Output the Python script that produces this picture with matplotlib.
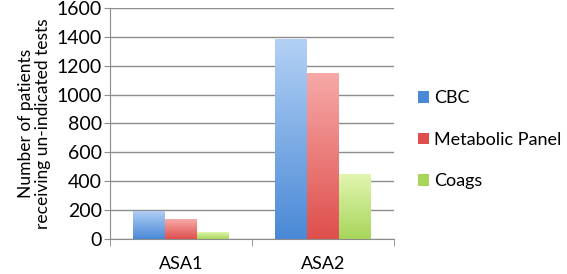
import numpy as np
import matplotlib
matplotlib.use('Agg')
import matplotlib.pyplot as plt
from matplotlib.colors import LinearSegmentedColormap
from matplotlib.patches import Patch

# data
groups      = ['ASA1', 'ASA2']
series      = ['CBC', 'Metabolic Panel', 'Coags']
cbc         = [195, 1385]
metabolic   = [135, 1150]
coags       = [45, 450]

# top / bottom colours of each bar gradient
grad_colours = [('#b3d1f5', '#4a89d6'),
                ('#f7aaa8', '#de4f4c'),
                ('#e2f5b0', '#a7d65a')]

plt.rcParams['font.family'] = ['Lato', 'DejaVu Sans']

fig = plt.figure(figsize=(5.67, 2.74), dpi=100)
ax  = fig.add_axes([0.194, 0.128, 0.501, 0.843])

x     = np.arange(len(groups))
width = 0.225
grad  = np.linspace(0, 1, 256).reshape(-1, 1)

for i, (vals, (top, bot)) in enumerate(zip([cbc, metabolic, coags], grad_colours)):
    bars = ax.bar(x + (i - 1) * width, vals, width, color=bot, linewidth=0, zorder=2)
    cmap = LinearSegmentedColormap.from_list('g%d' % i, [bot, top])
    for b in bars:
        x0, y0 = b.get_x(), b.get_y()
        im = ax.imshow(grad, cmap=cmap, origin='lower', aspect='auto',
                       extent=[x0, x0 + b.get_width(), y0, y0 + b.get_height()],
                       zorder=3)
        im.set_clip_path(b)

ax.set_xlim(-0.5, 1.5)
ax.set_ylim(0, 1600)
ax.set_yticks(np.arange(0, 1601, 200))
ax.yaxis.grid(True, color='#8c8c8c', linewidth=1.0, zorder=0)
ax.set_axisbelow(True)

ax.set_xticks(x)
ax.set_xticklabels(groups, fontsize=13)
ax.set_xticks([-0.5, 0.5, 1.5], minor=True)
ax.tick_params(axis='x', which='major', length=0, pad=12)
ax.tick_params(axis='x', which='minor', length=5, color='#8c8c8c', direction='out')
ax.tick_params(axis='y', length=4, color='#8c8c8c', labelsize=14, pad=2)

for s in ['top', 'right']:
    ax.spines[s].set_visible(False)
for s in ['left', 'bottom']:
    ax.spines[s].set_color('#8c8c8c')

ax.set_ylabel('Number of patients\nreceiving un-indicated tests', fontsize=12.5,
              linespacing=1.05, labelpad=4)

handles = [Patch(facecolor=c[1], edgecolor='none', label=s)
           for s, c in zip(series, grad_colours)]
fig.legend(handles=handles, loc='center left', bbox_to_anchor=(0.737, 0.49),
           borderaxespad=0, borderpad=0,
           frameon=False, fontsize=13, handlelength=0.62, handleheight=0.62,
           handletextpad=0.3, labelspacing=1.4)

fig.savefig('out.png', dpi=100)
